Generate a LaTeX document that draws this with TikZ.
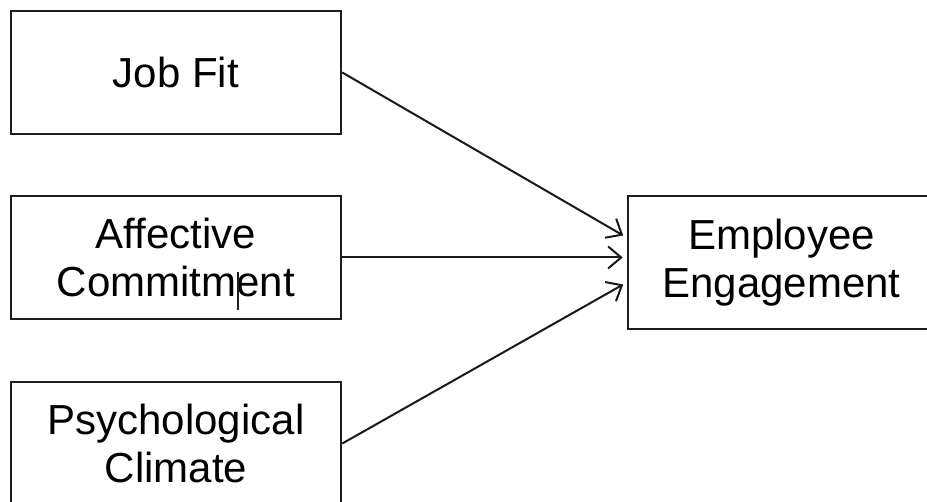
\documentclass[tikz,border=0pt]{standalone}
\usepackage{fontspec}
\setmainfont{Liberation Sans}
\usepackage{tikz}
\usetikzlibrary{arrows.meta, calc}
\usepackage{xcolor}
\definecolor{boxline} {RGB}{ 30, 30, 30}
\definecolor{pathline}{RGB}{ 25, 25, 25}
\tikzset{
  factor box/.style  = {draw=boxline, line width=2.6pt, fill=white,
                        minimum width=330pt, minimum height=123pt,
                        inner sep=0pt, align=center,
                        font=\fontsize{42}{48}\selectfont},
  outcome box/.style = {factor box, minimum width=307pt, minimum height=133pt},
  path arrow/.style  = {pathline, line width=2pt, shorten >=4pt,
                        -{Straight Barb[length=13pt, width=22pt, line width=2pt]}},
}

\begin{document}
\begin{tikzpicture}[x=1pt, y=-1pt]

  % page frame (reference is cropped at the right and bottom)
  \clip (0, 0) rectangle (927, 502);

  % ── predictors ─────────────────────────────────────────────────────────────
  \node[factor box] (jobfit) at (176,  72.5) {Job Fit};
  \node[factor box] (affect) at (176, 257.5) {Affective\\Commitment};
  \node[factor box] (climate) at (176, 443.5) {Psychological\\Climate};

  % ── outcome ────────────────────────────────────────────────────────────────
  \node[outcome box] (engage) at (781.5, 262.5) {Employee\\Engagement};

  % stray text cursor inside "Commitment"
  \draw[boxline, line width=1.2pt] (238, 272) -- (238, 310);

  % ── paths ──────────────────────────────────────────────────────────────────
  \draw[path arrow] (jobfit.east)  -- ([yshift=25pt]engage.west);
  \draw[path arrow] (affect.east)  -- ([yshift=5pt]engage.west);
  \draw[path arrow] (climate.east) -- ([yshift=-20pt]engage.west);

\end{tikzpicture}
\end{document}
